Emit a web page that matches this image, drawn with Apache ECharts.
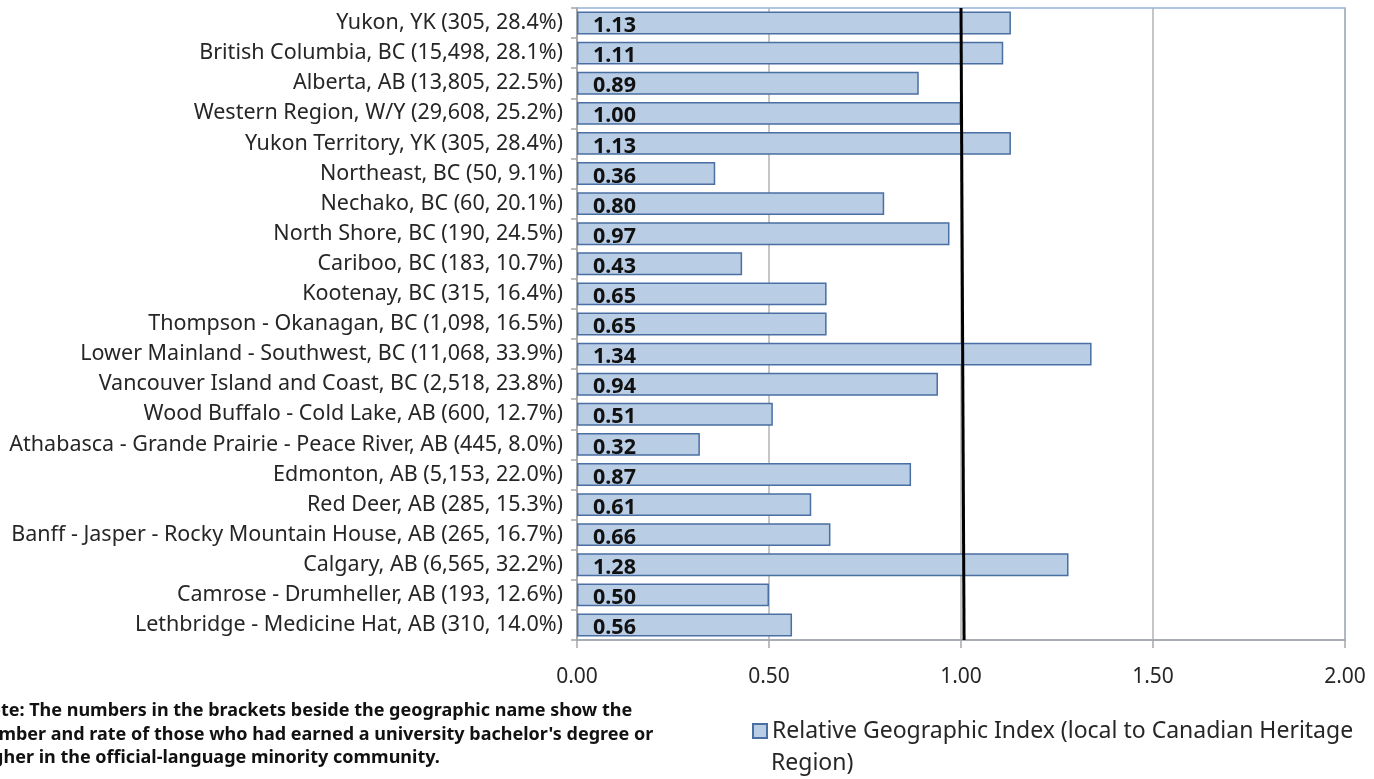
<!DOCTYPE html>
<html>
<head>
<meta charset="utf-8">
<script src="https://cdn.jsdelivr.net/npm/echarts@6/dist/echarts.min.js"></script>
<style>
  html, body { margin: 0; padding: 0; background: #fff; }
  #chart { width: 1374px; height: 779px; }
</style>
</head>
<body>
<div id="chart"></div>
<script>
// regions, top to bottom
const regions = [
  'Yukon, YK (305, 28.4%)',
  'British Columbia, BC (15,498, 28.1%)',
  'Alberta, AB (13,805, 22.5%)',
  'Western Region, W/Y (29,608, 25.2%)',
  'Yukon Territory, YK (305, 28.4%)',
  'Northeast, BC (50, 9.1%)',
  'Nechako, BC (60, 20.1%)',
  'North Shore, BC (190, 24.5%)',
  'Cariboo, BC (183, 10.7%)',
  'Kootenay, BC (315, 16.4%)',
  'Thompson - Okanagan, BC (1,098, 16.5%)',
  'Lower Mainland - Southwest, BC (11,068, 33.9%)',
  'Vancouver Island and Coast, BC (2,518, 23.8%)',
  'Wood Buffalo - Cold Lake, AB (600, 12.7%)',
  'Athabasca - Grande Prairie - Peace River, AB (445, 8.0%)',
  'Edmonton, AB (5,153, 22.0%)',
  'Red Deer, AB (285, 15.3%)',
  'Banff - Jasper - Rocky Mountain House, AB (265, 16.7%)',
  'Calgary, AB (6,565, 32.2%)',
  'Camrose - Drumheller, AB (193, 12.6%)',
  'Lethbridge - Medicine Hat, AB (310, 14.0%)'
]
const indexValues = [1.13, 1.11, 0.89, 1.00, 1.13, 0.36, 0.80, 0.97, 0.43, 0.65, 0.65,
  1.34, 0.94, 0.51, 0.32, 0.87, 0.61, 0.66, 1.28, 0.50, 0.56]

// reference line (index = 1), drawn a bit slanted like the original
const refLineX = [1.0, 1.008]
const refLineY = [1, 0]

const seriesName = 'Relative Geographic Index (local to Canadian Heritage Region)'
const legendLines = ['Relative Geographic Index (local to Canadian Heritage', 'Region)']
const noteLines = [
  'Note: The numbers in the brackets beside the geographic name show the',
  "number and rate of those who had earned a university bachelor's degree or",
  'higher in the official-language minority community.'
]

const chart = echarts.init(document.getElementById('chart'))
const font = '"Noto Sans", sans-serif'

chart.setOption({
  animation: false,
  textStyle: { fontFamily: font },
  grid: {
    left: 577, top: 8, right: 29, bottom: 139,
    show: true, borderColor: '#95b3d7', borderWidth: 1.5
  },
  legend: {
    left: 752, top: 716, padding: 0,
    itemWidth: 14, itemHeight: 14,
    data: [{ name: seriesName, icon: 'rect' }],
    formatter: () => legendLines[0],
    textStyle: { fontFamily: font, fontSize: 23, color: '#262626', lineHeight: 30 }
  },
  xAxis: {
    type: 'value', min: 0, max: 2, interval: 0.5,
    axisLine: { show: true, lineStyle: { color: '#a6a6a6', width: 1.5 } },
    axisTick: { show: true, length: 8, lineStyle: { color: '#a6a6a6', width: 1.5 } },
    splitLine: { lineStyle: { color: '#b3b3b3', width: 1.5 } },
    axisLabel: { fontSize: 21, color: '#262626', margin: 27, formatter: v => v.toFixed(2) }
  },
  yAxis: [
    {
      type: 'category', data: regions, inverse: true,
      axisLine: { show: true, lineStyle: { color: '#a6a6a6', width: 1.5 } },
      axisTick: { show: true, length: 6, lineStyle: { color: '#a6a6a6', width: 1.5 } },
      axisLabel: { fontSize: 21.5, color: '#262626', margin: 14 }
    },
    { type: 'value', min: 0, max: 1, show: false }
  ],
  series: [
    {
      name: seriesName, type: 'bar', data: indexValues,
      barCategoryGap: '24%',
      itemStyle: { color: '#b9cde5', borderColor: '#4a6fa3', borderWidth: 1.5 },
      label: {
        show: true, position: 'insideLeft', distance: 16,
        fontFamily: font, fontSize: 21.5, fontWeight: 'bold', color: '#111',
        offset: [0, 3],
        formatter: p => p.value.toFixed(2)
      }
    },
    {
      type: 'line', yAxisIndex: 1, symbol: 'none', silent: true,
      data: refLineX.map((x, i) => [x, refLineY[i]]),
      lineStyle: { color: '#000', width: 3 },
      z: 5
    }
  ],
  graphic: [
    ...noteLines.map((t, i) => ({
      type: 'text', left: -25, top: 702 + i * 23.5,
      style: { text: t, fontFamily: font, fontSize: 18, fontWeight: 'bold', fill: '#111' }
    })),
    {
      type: 'text', left: 771, top: 752,
      style: { text: legendLines[1], fontFamily: font, fontSize: 23, fill: '#262626' }
    }
  ]
})
</script>
</body>
</html>
